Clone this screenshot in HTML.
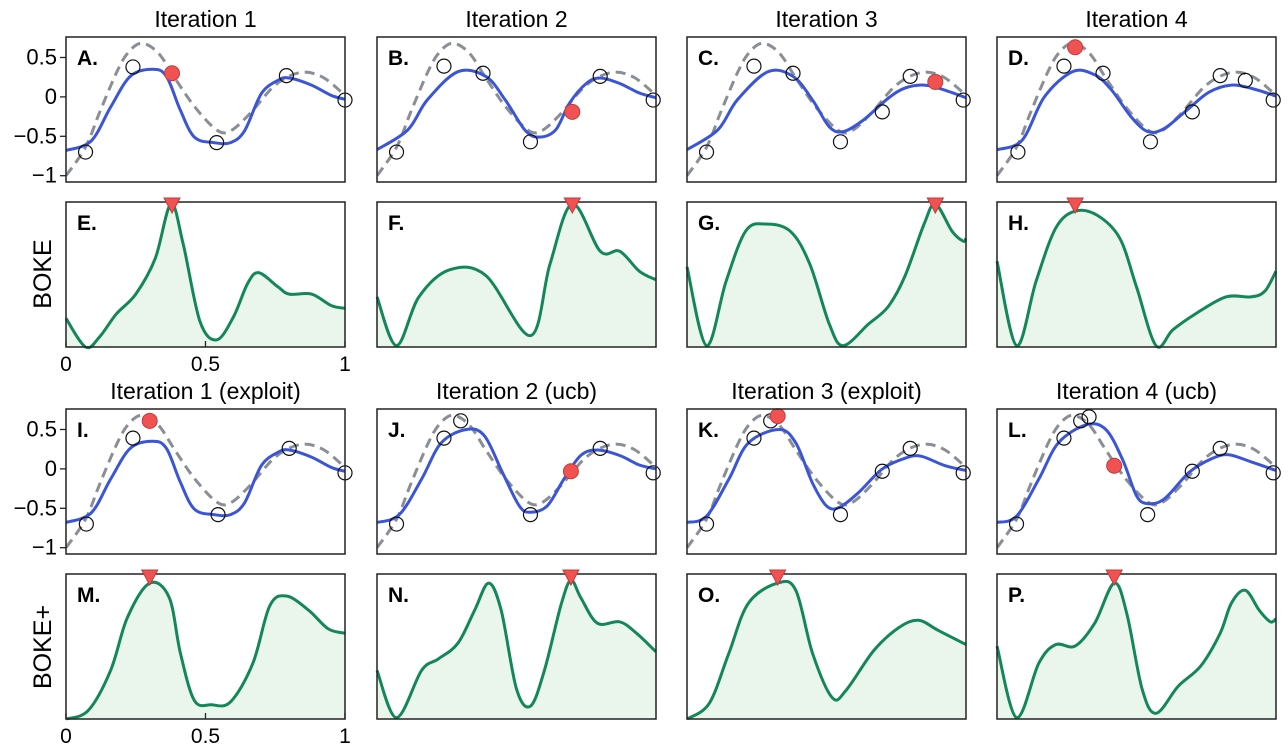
<!DOCTYPE html>
<html><head><meta charset="utf-8"><style>
body{margin:0;background:#fff;}
svg{display:block;font-family:"Liberation Sans",sans-serif;}
</style></head><body>
<svg id="fig" width="1288" height="756" viewBox="0 0 1288 756" xmlns="http://www.w3.org/2000/svg"></svg>
<script>
// ---- data ----
const truthCurve=[[0,-1.0],[0.07,-0.64],[0.12,-0.2],[0.18,0.3],[0.22,0.55],[0.27,0.68],[0.33,0.56],[0.39,0.24],[0.46,-0.12],[0.54,-0.42],[0.59,-0.43],[0.66,-0.21],[0.75,0.15],[0.84,0.31],[0.92,0.25],[1,0.02]];
const meanA=[[0,-0.68],[0.09,-0.56],[0.16,-0.13],[0.23,0.26],[0.31,0.35],[0.36,0.26],[0.41,-0.17],[0.46,-0.51],[0.53,-0.58],[0.59,-0.58],[0.64,-0.43],[0.70,0.04],[0.76,0.21],[0.80,0.24],[0.88,0.15],[0.95,0.02],[1,-0.03]];
const meanB=[[0,-0.67],[0.11,-0.42],[0.18,-0.04],[0.29,0.32],[0.39,0.26],[0.46,-0.04],[0.53,-0.42],[0.58,-0.51],[0.64,-0.42],[0.69,-0.08],[0.75,0.17],[0.80,0.24],[0.87,0.17],[0.94,0.05],[1,-0.01]];
const meanC=[[0,-0.67],[0.11,-0.42],[0.18,-0.04],[0.29,0.32],[0.38,0.26],[0.45,-0.04],[0.51,-0.38],[0.56,-0.44],[0.63,-0.30],[0.72,-0.02],[0.78,0.11],[0.85,0.15],[0.92,0.09],[1,-0.01]];
const meanD=[[0,-0.67],[0.09,-0.55],[0.17,0.0],[0.27,0.32],[0.35,0.28],[0.41,0.09],[0.48,-0.25],[0.54,-0.44],[0.60,-0.40],[0.68,-0.17],[0.76,0.06],[0.84,0.15],[0.92,0.10],[1,0.01]];
const meanJ=[[0,-0.68],[0.08,-0.58],[0.16,-0.13],[0.23,0.33],[0.32,0.50],[0.385,0.42],[0.45,-0.05],[0.51,-0.47],[0.55,-0.55],[0.61,-0.47],[0.67,-0.13],[0.73,0.17],[0.79,0.24],[0.87,0.17],[0.94,0.05],[1,0.0]];
const meanK=[[0,-0.68],[0.07,-0.6],[0.15,-0.13],[0.22,0.33],[0.33,0.50],[0.39,0.33],[0.45,-0.18],[0.50,-0.47],[0.545,-0.49],[0.615,-0.30],[0.70,0.0],[0.785,0.14],[0.84,0.16],[0.925,0.04],[1,-0.02]];
const meanL=[[0,-0.68],[0.07,-0.6],[0.15,-0.13],[0.22,0.33],[0.32,0.56],[0.39,0.50],[0.45,0.12],[0.50,-0.34],[0.54,-0.44],[0.60,-0.38],[0.69,-0.04],[0.77,0.13],[0.83,0.18],[0.91,0.09],[1,-0.02]];
const obsA=[[0.07,-0.70],[0.24,0.38],[0.54,-0.58],[0.79,0.27],[1.0,-0.04]];
const obsB=[[0.07,-0.70],[0.24,0.39],[0.38,0.30],[0.55,-0.57],[0.80,0.26],[0.99,-0.04]];
const obsC=[[0.07,-0.70],[0.24,0.39],[0.38,0.30],[0.55,-0.57],[0.70,-0.19],[0.80,0.26],[0.99,-0.04]];
const obsD=[[0.075,-0.70],[0.24,0.39],[0.38,0.30],[0.55,-0.57],[0.70,-0.19],[0.80,0.27],[0.89,0.21],[0.99,-0.04]];
const obsI=[[0.073,-0.70],[0.24,0.39],[0.545,-0.58],[0.80,0.26],[1,-0.05]];
const obsJ=[[0.07,-0.70],[0.24,0.39],[0.30,0.61],[0.55,-0.58],[0.80,0.26],[0.99,-0.05]];
const obsK=[[0.07,-0.70],[0.24,0.39],[0.30,0.61],[0.55,-0.58],[0.70,-0.03],[0.80,0.26],[0.99,-0.05]];
const obsL=[[0.07,-0.70],[0.24,0.39],[0.30,0.61],[0.33,0.66],[0.54,-0.58],[0.70,-0.03],[0.80,0.26],[0.99,-0.05]];
const nextA=[0.38,0.30], nextB=[0.70,-0.19], nextC=[0.89,0.19], nextD=[0.28,0.63];
const nextI=[0.30,0.61], nextJ=[0.695,-0.03], nextK=[0.325,0.67], nextL=[0.42,0.04];
const acqE=[[0,0.2],[0.07,0],[0.12,0.07],[0.18,0.23],[0.25,0.37],[0.32,0.62],[0.376,1.0],[0.42,0.72],[0.48,0.18],[0.54,0.05],[0.60,0.21],[0.65,0.44],[0.69,0.52],[0.76,0.42],[0.80,0.37],[0.88,0.37],[0.95,0.29],[1,0.27]];
const acqF=[[0,0.35],[0.07,0.01],[0.15,0.35],[0.26,0.54],[0.39,0.5],[0.55,0.08],[0.62,0.58],[0.70,1.0],[0.80,0.67],[0.87,0.67],[0.94,0.53],[1,0.47]];
const acqG=[[0,0.56],[0.07,0.01],[0.14,0.46],[0.21,0.81],[0.28,0.86],[0.37,0.81],[0.44,0.58],[0.51,0.16],[0.56,0.01],[0.65,0.16],[0.72,0.28],[0.78,0.49],[0.85,0.86],[0.89,1.0],[0.95,0.81],[0.99,0.74],[1,0.76]];
const acqH=[[0,0.60],[0.07,0.01],[0.14,0.46],[0.21,0.83],[0.28,0.95],[0.36,0.92],[0.44,0.76],[0.50,0.42],[0.57,0.01],[0.63,0.12],[0.71,0.23],[0.82,0.35],[0.91,0.35],[0.96,0.39],[1,0.53]];
const acqM=[[0,0],[0.08,0.06],[0.16,0.34],[0.22,0.71],[0.30,0.95],[0.37,0.85],[0.41,0.46],[0.46,0.13],[0.52,0.10],[0.59,0.12],[0.67,0.39],[0.73,0.79],[0.79,0.86],[0.87,0.76],[0.94,0.63],[1,0.60]];
const acqN=[[0,0.34],[0.07,0.01],[0.16,0.34],[0.22,0.42],[0.29,0.53],[0.35,0.76],[0.40,0.95],[0.445,0.76],[0.50,0.21],[0.55,0.09],[0.60,0.34],[0.66,0.80],[0.695,0.97],[0.73,0.85],[0.79,0.67],[0.87,0.68],[0.93,0.60],[1,0.47]];
const acqO=[[0,0],[0.08,0.11],[0.15,0.46],[0.22,0.81],[0.325,0.95],[0.39,0.9],[0.45,0.46],[0.52,0.15],[0.57,0.2],[0.67,0.48],[0.76,0.64],[0.83,0.69],[0.90,0.62],[1,0.52]];
const acqP=[[0,0.51],[0.07,0.01],[0.15,0.39],[0.21,0.52],[0.28,0.51],[0.35,0.67],[0.42,0.95],[0.465,0.74],[0.52,0.21],[0.57,0.04],[0.65,0.23],[0.73,0.37],[0.80,0.60],[0.84,0.81],[0.89,0.90],[0.94,0.76],[0.98,0.68],[1,0.70]];
const colTitlesTop=["Iteration 1","Iteration 2","Iteration 3","Iteration 4"];
const colTitlesBottom=["Iteration 1 (exploit)","Iteration 2 (ucb)","Iteration 3 (exploit)","Iteration 4 (ucb)"];
const yTicks=[0.5,0,-0.5,-1];
const yTickLabels=["0.5","0","\u22120.5","\u22121"];
const xTicks=[0,0.5,1];
const xTickLabels=["0","0.5","1"];

// ---- layout ----
const NS="http://www.w3.org/2000/svg";
const svg=document.getElementById('fig');
const colX=[66,377,687,997], PW=279, PH=145;
const rowY=[37,202,409,574];
const YMIN=-1.08, YMAX=0.76;
function el(tag,attrs,parent){const e=document.createElementNS(NS,tag);for(const k in attrs)e.setAttribute(k,attrs[k]);(parent||svg).appendChild(e);return e;}
function xs(px,v){return px+v*PW;}
function ysGP(py,v){return py+(YMAX-v)/(YMAX-YMIN)*PH;}
function ysAcq(py,v){return py+PH-v*(PH-2);}
function smooth(pts){let d=`M${pts[0][0].toFixed(1)},${pts[0][1].toFixed(1)}`;for(let i=0;i<pts.length-1;i++){const p0=pts[Math.max(0,i-1)],p1=pts[i],p2=pts[i+1],p3=pts[Math.min(pts.length-1,i+2)];const c1=[p1[0]+(p2[0]-p0[0])/6,p1[1]+(p2[1]-p0[1])/6],c2=[p2[0]-(p3[0]-p1[0])/6,p2[1]-(p3[1]-p1[1])/6];d+=`C${c1[0].toFixed(1)},${c1[1].toFixed(1)} ${c2[0].toFixed(1)},${c2[1].toFixed(1)} ${p2[0].toFixed(1)},${p2[1].toFixed(1)}`;}return d;}

function gpPanel(c,r,letter,mean,obs,next){
  const px=colX[c],py=rowY[r];
  const g=el('g',{});
  
  
  const cp=el('clipPath',{id:'cp'+letter},g);el('rect',{x:px,y:py,width:PW,height:PH},cp);
  const inner=el('g',{'clip-path':`url(#cp${letter})`},g);
  const t=el('path',{d:smooth(truthCurve.map(p=>[xs(px,p[0]),ysGP(py,p[1])])),fill:'none',stroke:'#8a8f96','stroke-width':3,'stroke-dasharray':'10,6'},inner);
  
  
  const m=el('path',{d:smooth(mean.map(p=>[xs(px,p[0]),ysGP(py,p[1])])),fill:'none',stroke:'#3b55d9','stroke-width':3},inner);
  
  
  obs.forEach(o=>{const ci=el('circle',{cx:xs(px,o[0]),cy:ysGP(py,o[1]),r:7,fill:'none',stroke:'#111','stroke-width':1.2},g);
    
    });
  const n=el('circle',{cx:xs(px,next[0]),cy:ysGP(py,next[1]),r:7.5,fill:'#f05252',stroke:'#c43a3a','stroke-width':1},g);
  
  
  const f=el('rect',{x:px,y:py,width:PW,height:PH,fill:'none',stroke:'#222','stroke-width':1.5},g);
  
  
  const lb=el('text',{x:px+11,y:py+28,'font-size':21,'font-weight':'bold',fill:'#000'},g);lb.textContent=letter+'.';
  
  
  if(c===0){yTicks.forEach((v,i)=>{const y=ysGP(py,v);el('line',{x1:px-6,x2:px,y1:y,y2:y,stroke:'#222','stroke-width':1.3},g);
    const tl=el('text',{x:px-9,y:y+7,'font-size':22,'text-anchor':'end',fill:'#000'},g);tl.textContent=yTickLabels[i];
    
    });}
}
function acqPanel(c,r,letter,acq,peakX,showX){
  const px=colX[c],py=rowY[r];
  const g=el('g',{});
  
  
  const pts=acq.map(p=>[xs(px,p[0]),ysAcq(py,p[1])]);
  const d=smooth(pts);
  const a=el('path',{d:d+`L${px+PW},${py+PH}L${px},${py+PH}Z`,fill:'#eaf6ec',stroke:'none'},g);
  
  
  const l=el('path',{d:d,fill:'none',stroke:'#14875a','stroke-width':3},g);
  
  
  const f=el('rect',{x:px,y:py,width:PW,height:PH,fill:'none',stroke:'#222','stroke-width':1.5},g);
  
  
  const tx=xs(px,peakX);
  const tr=el('path',{d:`M${tx-8},${py-4}L${tx+8},${py-4}L${tx},${py+11}Z`,fill:'#f05252',stroke:'#c43a3a','stroke-width':1},g);
  
  
  const lb=el('text',{x:px+11,y:py+28,'font-size':21,'font-weight':'bold',fill:'#000'},g);lb.textContent=letter+'.';
  
  
  if(showX){xTicks.forEach((v,i)=>{const x=xs(px,v);el('line',{x1:x,x2:x,y1:py+PH-6,y2:py+PH,stroke:'#222','stroke-width':1.3},g);
    const tl=el('text',{x:x,y:py+PH+24,'font-size':21,'text-anchor':'middle',fill:'#000'},g);tl.textContent=xTickLabels[i];
    
    });}
}
colTitlesTop.forEach((t,i)=>{const e=el('text',{x:colX[i]+PW/2,y:27,'font-size':23,'text-anchor':'middle'});e.textContent=t;
  
  });
colTitlesBottom.forEach((t,i)=>{const e=el('text',{x:colX[i]+PW/2,y:399,'font-size':23,'text-anchor':'middle'});e.textContent=t;
  
  });
[["BOKE",274],["BOKE+",647]].forEach(([t,cy])=>{const e=el('text',{x:0,y:0,'font-size':25,'text-anchor':'middle',transform:`translate(51,${cy}) rotate(-90)`});e.textContent=t;
  
  });
gpPanel(0,0,'A',meanA,obsA,nextA);gpPanel(1,0,'B',meanB,obsB,nextB);gpPanel(2,0,'C',meanC,obsC,nextC);gpPanel(3,0,'D',meanD,obsD,nextD);
acqPanel(0,1,'E',acqE,nextA[0],true);acqPanel(1,1,'F',acqF,nextB[0],false);acqPanel(2,1,'G',acqG,nextC[0],false);acqPanel(3,1,'H',acqH,nextD[0],false);
gpPanel(0,2,'I',meanA,obsI,nextI);gpPanel(1,2,'J',meanJ,obsJ,nextJ);gpPanel(2,2,'K',meanK,obsK,nextK);gpPanel(3,2,'L',meanL,obsL,nextL);
acqPanel(0,3,'M',acqM,nextI[0],true);acqPanel(1,3,'N',acqN,nextJ[0],false);acqPanel(2,3,'O',acqO,nextK[0],false);acqPanel(3,3,'P',acqP,nextL[0],false);
</script>
</body></html>
